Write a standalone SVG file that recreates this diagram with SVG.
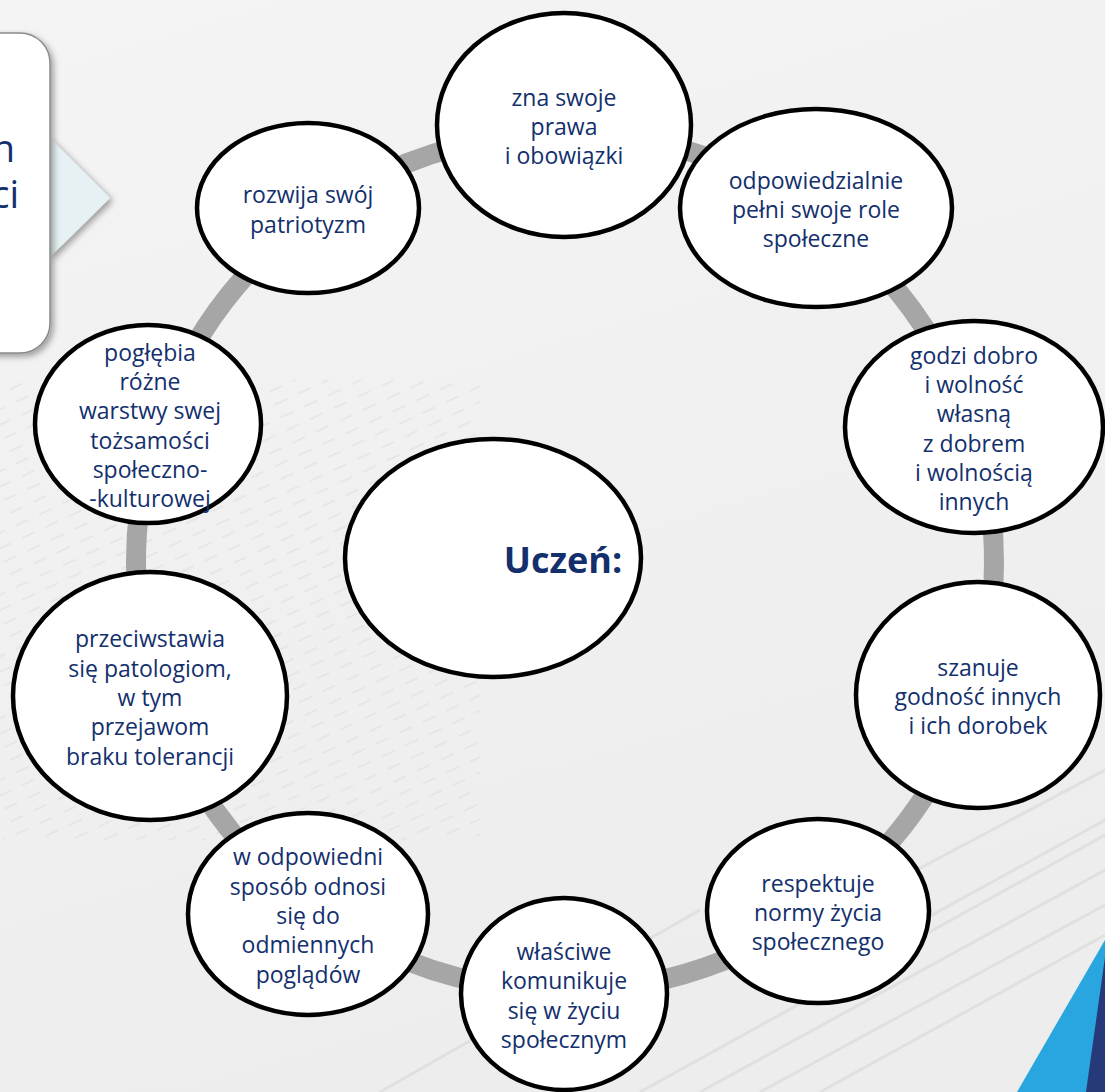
<svg xmlns="http://www.w3.org/2000/svg" width="1105" height="1092" viewBox="0 0 1105 1092">
<defs>
<style>
.node ellipse{fill:#ffffff;stroke:#000000;stroke-width:4.5}
.lbl{font-family:"Open Sans","Liberation Sans",sans-serif;font-size:23px;fill:#13306d;text-anchor:middle}
.big{font-family:"Open Sans","Liberation Sans",sans-serif;font-size:36px;font-weight:bold;fill:#13306d;text-anchor:middle}
.boxt{font-family:"Open Sans","Liberation Sans",sans-serif;font-size:38px;fill:#13306d;text-anchor:end}
.streak{stroke:#e0e0e0;stroke-width:3;fill:none}
</style>
<linearGradient id="bg" x1="0" y1="0" x2="0.3" y2="1">
<stop offset="0" stop-color="#f4f4f4"/>
<stop offset="1" stop-color="#ededed"/>
</linearGradient>
<filter id="sh" x="-20%" y="-20%" width="160%" height="160%">
<feDropShadow dx="3" dy="3" stdDeviation="3" flood-color="#000" flood-opacity="0.35"/>
</filter>
<pattern id="dash" width="26" height="14" patternUnits="userSpaceOnUse" patternTransform="rotate(-25)">
<line x1="0" y1="7" x2="14" y2="7" stroke="#e2e2e2" stroke-width="2"/>
</pattern>
</defs>
<rect width="1105" height="1092" fill="url(#bg)"/>
<rect x="0" y="380" width="480" height="460" fill="url(#dash)" opacity="0.7"/>
<g class="streaks">
<path class="streak" d="M700 1092 L1105 870"/>
<path class="streak" d="M760 1092 L1105 905"/>
<path class="streak" d="M820 1092 L1105 935"/>
<path class="streak" d="M640 1092 L1105 835"/>
<path class="streak" d="M860 900 L1105 770"/>
<path class="streak" d="M850 960 L1105 820"/>
<path class="streak" d="M380 1092 L700 910"/>
</g>
<g id="corner">
<polygon points="1105,940 1105,1092 1017,1092" fill="#29a6df"/>
<polygon points="1105,957 1105,1092 1086,1092" fill="#263a7a"/>
</g>
<g id="intro-box">
<polygon points="50,138 110,198 50,257" fill="#e5f1f3" filter="url(#sh)"/>
<rect x="-40" y="33" width="90" height="320" rx="30" fill="#ffffff" stroke="#8a8a8a" stroke-width="1.5" filter="url(#sh)"/>
<text class="boxt" x="15" y="162">n</text>
<text class="boxt" x="19" y="208">ci</text>
</g>
<g id="connectors">
<circle cx="565" cy="562" r="429" fill="none" stroke="#a6a6a6" stroke-width="20"/>
</g>
<g id="center" class="node">
<ellipse cx="493" cy="558" rx="148" ry="119"/>
<text class="big" x="563" y="573">Uczeń:</text>
</g>
<g id="n1" class="node">
<ellipse cx="564" cy="125" rx="127" ry="112"/>
<text class="lbl"><tspan x="564" y="106">zna swoje</tspan><tspan x="564" y="135">prawa</tspan><tspan x="564" y="164">i obowiązki</tspan></text>
</g>
<g id="n2" class="node">
<ellipse cx="816" cy="208" rx="136" ry="99"/>
<text class="lbl"><tspan x="816" y="189">odpowiedzialnie</tspan><tspan x="816" y="218">pełni swoje role</tspan><tspan x="816" y="247">społeczne</tspan></text>
</g>
<g id="n3" class="node">
<ellipse cx="974" cy="427" rx="129" ry="106"/>
<text class="lbl"><tspan x="974" y="364">godzi dobro</tspan><tspan x="974" y="393">i wolność</tspan><tspan x="974" y="422">własną</tspan><tspan x="974" y="452">z dobrem</tspan><tspan x="974" y="481">i wolnością</tspan><tspan x="974" y="510">innych</tspan></text>
</g>
<g id="n4" class="node">
<ellipse cx="978" cy="695" rx="122" ry="113"/>
<text class="lbl"><tspan x="978" y="676">szanuje</tspan><tspan x="978" y="705">godność innych</tspan><tspan x="978" y="734">i ich dorobek</tspan></text>
</g>
<g id="n5" class="node">
<ellipse cx="818" cy="911" rx="111" ry="92"/>
<text class="lbl"><tspan x="818" y="892">respektuje</tspan><tspan x="818" y="921">normy życia</tspan><tspan x="818" y="950">społecznego</tspan></text>
</g>
<g id="n6" class="node">
<ellipse cx="564" cy="994" rx="103" ry="96"/>
<text class="lbl"><tspan x="564" y="960">właściwe</tspan><tspan x="564" y="989">komunikuje</tspan><tspan x="564" y="1019">się w życiu</tspan><tspan x="564" y="1048">społecznym</tspan></text>
</g>
<g id="n7" class="node">
<ellipse cx="308" cy="914" rx="120" ry="101"/>
<text class="lbl"><tspan x="308" y="865">w odpowiedni</tspan><tspan x="308" y="895">sposób odnosi</tspan><tspan x="308" y="924">się do</tspan><tspan x="308" y="953">odmiennych</tspan><tspan x="308" y="983">poglądów</tspan></text>
</g>
<g id="n8" class="node">
<ellipse cx="150" cy="696" rx="137" ry="124"/>
<text class="lbl"><tspan x="150" y="647">przeciwstawia</tspan><tspan x="150" y="677">się patologiom,</tspan><tspan x="150" y="706">w tym</tspan><tspan x="150" y="735">przejawom</tspan><tspan x="150" y="765">braku tolerancji</tspan></text>
</g>
<g id="n9" class="node">
<ellipse cx="148" cy="424" rx="113" ry="99"/>
<text class="lbl"><tspan x="150" y="361">pogłębia</tspan><tspan x="150" y="390">różne</tspan><tspan x="150" y="419">warstwy swej</tspan><tspan x="150" y="449">tożsamości</tspan><tspan x="150" y="478">społeczno-</tspan><tspan x="150" y="507">-kulturowej</tspan></text>
</g>
<g id="n10" class="node">
<ellipse cx="308" cy="208" rx="111" ry="85"/>
<text class="lbl"><tspan x="308" y="203">rozwija swój</tspan><tspan x="308" y="233">patriotyzm</tspan></text>
</g>
</svg>
